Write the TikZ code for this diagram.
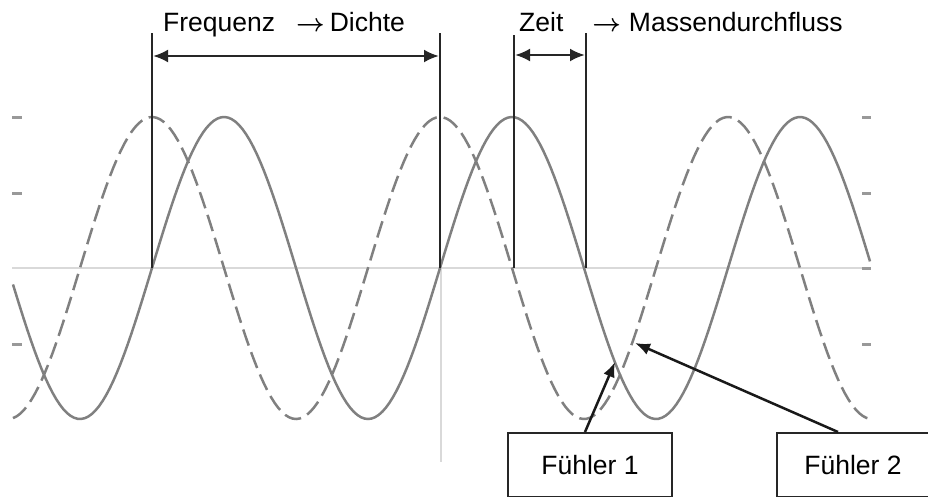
\documentclass[tikz,border=0pt]{standalone}
\usepackage{amsmath}
\usepackage{fontspec}
\setmainfont{Liberation Sans}
\usetikzlibrary{arrows.meta}

\newcommand{\bigarrow}{{\fontsize{30}{30}\selectfont$\boldsymbol{\rightarrow}$}}

\begin{document}
\begin{tikzpicture}[x=1pt, y=-1pt, >=Latex,
  lbl/.style={font=\fontsize{26.5}{30}\selectfont, inner sep=0pt},
  ax/.style={line width=2pt, black!15},
  tick/.style={line width=3pt, black!40},
  wave/.style={line width=2.5pt, gray},
  markline/.style={line width=1.6pt, black!85},
  dim/.style={line width=2.5pt, black!85, {Latex[length=15pt,width=13pt]}-{Latex[length=15pt,width=13pt]}},
  ptr/.style={line width=2.5pt, black!90, -{Latex[length=15pt,width=12pt]}},
  fbox/.style={draw=black!85, line width=2pt, lbl, minimum width=164pt, minimum height=64pt},
]
\clip (0,0) rectangle (928,496);

% Axes
\draw[ax] (12,268) -- (870,268);
\draw[ax] (441,268) -- (441,462);
\foreach \y in {117,193,344}
  \draw[tick] (12,\y) -- (22,\y);
\foreach \y in {117,193,268,344}
  \draw[tick] (862,\y) -- (871,\y);

% Waves -- solid and phase-shifted (dashed)
\draw[wave] plot[domain=13:870, samples=240] (\x, {268-151*sin((\x-152)*1.25)});
\draw[wave, dash pattern=on 17pt off 7pt]
  plot[domain=13:870, samples=240] (\x, {268-151*cos((\x-152)*1.25)});

% Marker lines
\coordinate (fa) at (152,56);
\coordinate (fb) at (440,56);
\coordinate (za) at (514,55);
\coordinate (zb) at (586,55);
\draw[markline] (152,33) -- (152,268);
\draw[markline] (440,33) -- (440,268);
\draw[markline] (514,35) -- (514,268);
\draw[markline] (586,33) -- (586,268);
\draw[dim] ([xshift=1pt]fa) -- ([xshift=-1pt]fb);
\draw[dim] ([xshift=1pt]za) -- ([xshift=-1pt]zb);

% Labels
\node[lbl, anchor=base west] (freq) at (163,31)
  {Frequenz\hspace{21pt}\bigarrow\hspace{5pt}Dichte};
\node[lbl, anchor=base west] (zeit) at (519,31)
  {Zeit\hspace{29pt}\bigarrow\hspace{8pt}Massendurchfluss};

% Sensors
\node[fbox] (fuehler1) at (590,465) {Fühler 1};
\node[fbox, minimum width=152pt] (fuehler2) at (853,465) {Fühler 2};
\coordinate (s1) at (615,362);
\coordinate (s2) at (635,343);
\draw[ptr] ([xshift=-5pt]fuehler1.north) -- (s1);
\draw[ptr] ([xshift=-15pt]fuehler2.north) -- (s2);

\end{tikzpicture}
\end{document}
